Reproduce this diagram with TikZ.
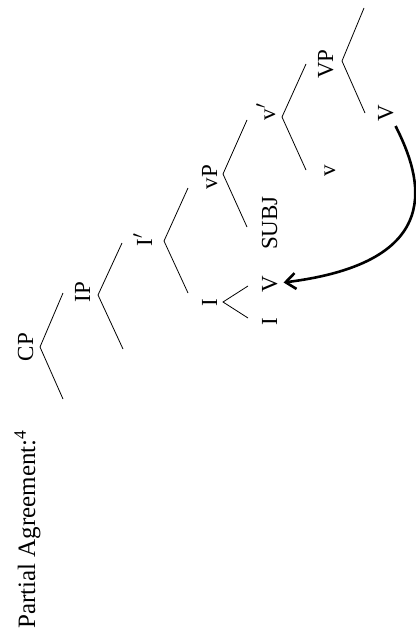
\documentclass[tikz,border=0pt]{standalone}
\usepackage{fontspec}
\setmainfont{Liberation Serif}
\usetikzlibrary{arrows.meta}

\tikzset{
  lbl/.style={rotate=90, anchor=base, inner sep=0pt,
    font=\fontsize{23}{27}\selectfont},
  branch/.style={line width=0.8pt, line join=miter},
  movearrow/.style={line width=2.6pt,
    -{Straight Barb[length=10pt,width=16pt]}}
}

\begin{document}
\begin{tikzpicture}[x=1pt, y=-1pt]
  \useasboundingbox (0,0) rectangle (415,634);

  % heading
  \node[rotate=90, anchor=base west, inner sep=0pt,
        font=\fontsize{25}{30}\selectfont] (title) at (35,629)
        {Partial Agreement:\textsuperscript{4}};

  % category labels
  \node[lbl] (cp)   at (33,347)   {CP};
  \node[lbl] (ip)   at (90,292)   {IP};
  \node[lbl] (ibar) at (152,240)  {I$'$};
  \node[lbl] (i)    at (217,303)  {I};
  \node[lbl] (lvp)  at (217,177)  {vP};
  \node[lbl] (subj) at (277,223)  {SUBJ};
  \node[lbl] (vadj) at (277,284.5){V};
  \node[lbl] (iadj) at (277,322)  {I};
  \node[lbl] (lvbar)at (275,112)  {v$'$};
  \node[lbl] (lv)   at (335,171)  {v};
  \node[lbl] (vp)   at (333,64)   {VP};
  \node[lbl] (vhead)at (393,113.5){V};

  % branching points and branch ends
  \coordinate (cp-m) at (40,347);  \coordinate (cp-a) at (63,293);  \coordinate (cp-b) at (63,399);
  \coordinate (ip-m) at (98,295);  \coordinate (ip-a) at (122,243); \coordinate (ip-b) at (123,349);
  \coordinate (ib-m) at (164,241); \coordinate (ib-a) at (188,188); \coordinate (ib-b) at (188,293);
  \coordinate (i-m)  at (223,302); \coordinate (i-a)  at (248,286); \coordinate (i-b)  at (248,318);
  \coordinate (lvp-m) at (223,174); \coordinate (lvp-a) at (247,120); \coordinate (lvp-b) at (247,227);
  \coordinate (lvb-m) at (282,117); \coordinate (lvb-a) at (306,64);  \coordinate (lvb-b) at (306,170);
  \coordinate (vp-m) at (342,61);  \coordinate (vp-a) at (364,8);   \coordinate (vp-b) at (365,113);

  \draw[branch] (cp-a) -- (cp-m) -- (cp-b);
  \draw[branch] (ip-a) -- (ip-m) -- (ip-b);
  \draw[branch] (ib-a) -- (ib-m) -- (ib-b);
  \draw[branch] (i-a) -- (i-m) -- (i-b);
  \draw[branch] (lvp-a) -- (lvp-m) -- (lvp-b);
  \draw[branch] (lvb-a) -- (lvb-m) -- (lvb-b);
  \draw[branch] (vp-a) -- (vp-m) -- (vp-b);

  % head movement of V to I
  \draw[movearrow] ([xshift=2pt,yshift=-4pt]vhead.south west)
    .. controls (422,178) and (448,262) .. ([xshift=6pt,yshift=2pt]vadj.south);
\end{tikzpicture}
\end{document}
